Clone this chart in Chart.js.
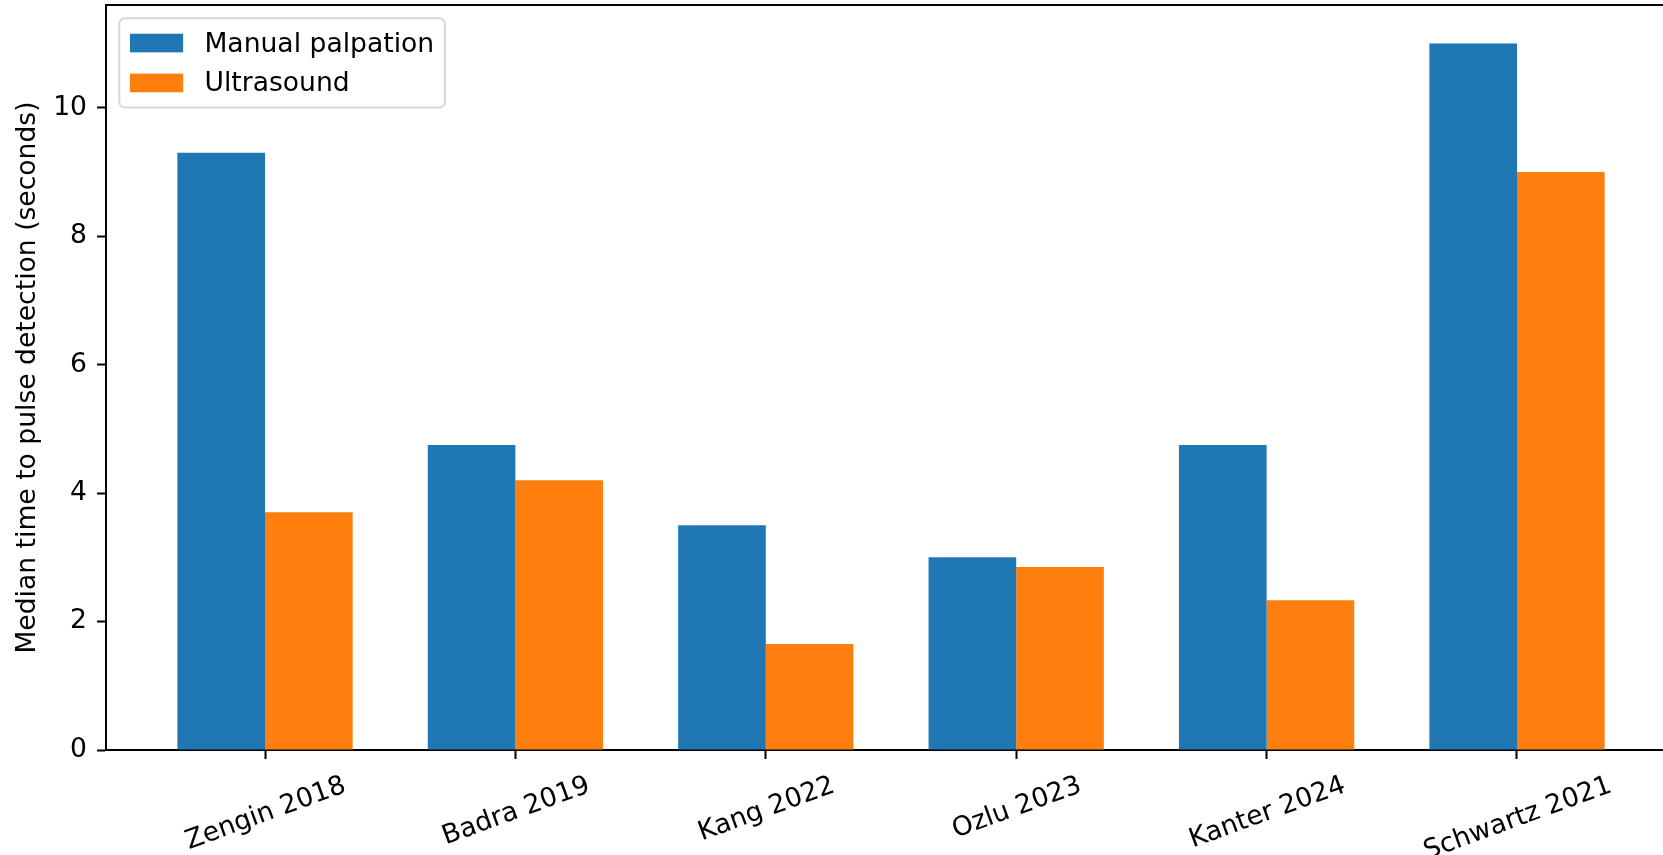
<!DOCTYPE html>
<html>
<head>
<meta charset="utf-8">
<script src="https://cdn.jsdelivr.net/npm/chart.js@4/dist/chart.umd.min.js"></script>
<style>
  html, body { margin: 0; padding: 0; background: #fff; overflow: hidden; }
  #wrap { width: 1700px; height: 855px; }
</style>
</head>
<body>
<div id="wrap"><canvas id="grafico" width="1700" height="855"></canvas></div>
<script>
// dados
const estudos = ['Zengin 2018', 'Badra 2019', 'Kang 2022', 'Ozlu 2023', 'Kanter 2024', 'Schwartz 2021'];
const palpacao = [9.3, 4.75, 3.5, 3.0, 4.75, 11.0];   // Manual palpation
const ultrassom = [3.7, 4.2, 1.65, 2.85, 2.33, 9.0];  // Ultrasound
const yTicks = [0, 2, 4, 6, 8, 10];
const yMax = 11.6;
const xMin = -0.635, xMax = 5.635;

const FS = 26.6;
const FONT = 'DejaVu Sans';
Chart.defaults.font.family = FONT;
Chart.defaults.font.size = FS;
Chart.defaults.color = '#000';

// -------------------------------------------------------
// moldura de cima/direita + legenda + rotulos do eixo x
const extras = {
  id: 'extras',
  afterDatasetsDraw(chart) {
    const { ctx, chartArea: a } = chart;
    ctx.save();
    ctx.strokeStyle = '#000';
    ctx.lineWidth = 2;
    ctx.beginPath();
    ctx.moveTo(a.left, a.top);
    ctx.lineTo(a.right, a.top);
    ctx.lineTo(a.right, a.bottom);
    ctx.stroke();
    ctx.restore();
  },
  afterDraw(chart) {
    const { ctx, chartArea: a } = chart;
    const xs = chart.scales.x;
    ctx.save();
    ctx.font = FS + 'px "' + FONT + '"';
    ctx.fillStyle = '#000';

    // rotulos x girados 20 graus, centrados no tick
    const rot = 20 * Math.PI / 180;
    const h = FS * 1.164;
    estudos.forEach((nome, i) => {
      const px = xs.getPixelForValue(i);
      const w = ctx.measureText(nome).width;
      const H = w * Math.sin(rot) + h * Math.cos(rot);
      const cy = a.bottom + 9 + 9.3 + H / 2;
      ctx.save();
      ctx.translate(px, cy);
      ctx.rotate(-rot);
      ctx.textAlign = 'center';
      ctx.textBaseline = 'alphabetic';
      ctx.fillText(nome, 0, 0.346 * FS);
      ctx.restore();
    });

    // legenda
    const ds = chart.data.datasets;
    const x0 = a.left + 0.5 * FS;
    const y0 = a.top + 0.5 * FS;
    let tw = 0;
    ds.forEach(d => { tw = Math.max(tw, ctx.measureText(d.label).width); });
    const fw = 0.4 * FS + 2 * FS + 0.8 * FS + tw + 0.4 * FS;
    const fh = 3.35 * FS;
    ctx.beginPath();
    ctx.roundRect(x0, y0, fw, fh, 0.2 * FS);
    ctx.fillStyle = 'rgba(255,255,255,0.8)';
    ctx.fill();
    ctx.strokeStyle = '#d6d6d6';
    ctx.lineWidth = 2;
    ctx.stroke();
    ds.forEach((d, i) => {
      const cy = y0 + 0.93 * FS + i * 1.5 * FS;
      ctx.fillStyle = d.backgroundColor;
      ctx.fillRect(x0 + 0.4 * FS, cy - 0.35 * FS, 2 * FS, 0.7 * FS);
      ctx.fillStyle = '#000';
      ctx.textAlign = 'left';
      ctx.textBaseline = 'alphabetic';
      ctx.fillText(d.label, x0 + 3.2 * FS, cy + 0.32 * FS);
    });
    ctx.restore();
  }
};

const ctx = document.getElementById('grafico').getContext('2d');
const grafico = new Chart(ctx, {
  type: 'bar',
  data: {
    datasets: [
      {
        label: 'Manual palpation',
        data: palpacao.map((v, i) => ({ x: i, y: v })),
        backgroundColor: '#1f77b4',
        borderWidth: 0,
        categoryPercentage: 0.7,
        barPercentage: 1.0
      },
      {
        label: 'Ultrasound',
        data: ultrassom.map((v, i) => ({ x: i, y: v })),
        backgroundColor: '#ff7f0e',
        borderWidth: 0,
        categoryPercentage: 0.7,
        barPercentage: 1.0
      }
    ]
  },
  options: {
    responsive: false,
    animation: false,
    devicePixelRatio: 1,
    layout: { padding: { top: 5, right: 24, bottom: 0, left: 0 } },
    plugins: {
      legend: { display: false },
      tooltip: { enabled: false }
    },
    scales: {
      x: {
        type: 'linear',
        min: xMin,
        max: xMax,
        offset: false,
        afterBuildTicks: s => { s.ticks = estudos.map((e, i) => ({ value: i })); },
        afterFit: s => { s.height = 105; s.paddingLeft = 0; s.paddingRight = 0; },
        ticks: { display: false },
        grid: {
          display: true,
          offset: false,
          drawOnChartArea: false,
          drawTicks: true,
          tickLength: 9,
          tickWidth: 2,
          tickColor: '#000'
        },
        border: { display: true, color: '#000', width: 2 }
      },
      y: {
        type: 'linear',
        min: 0,
        max: yMax,
        afterBuildTicks: s => { s.ticks = yTicks.map(v => ({ value: v })); },
        afterFit: s => { s.width = 106; s.paddingTop = 0; s.paddingBottom = 0; },
        ticks: { color: '#000', padding: 10, font: { size: FS } },
        grid: {
          display: true,
          drawOnChartArea: false,
          drawTicks: true,
          tickLength: 9,
          tickWidth: 2,
          tickColor: '#000'
        },
        border: { display: true, color: '#000', width: 2 },
        title: {
          display: true,
          text: 'Median time to pulse detection (seconds)',
          color: '#000',
          font: { size: FS },
          padding: { top: 12, bottom: 0 }
        }
      }
    }
  },
  plugins: [extras]
});
</script>
</body>
</html>
